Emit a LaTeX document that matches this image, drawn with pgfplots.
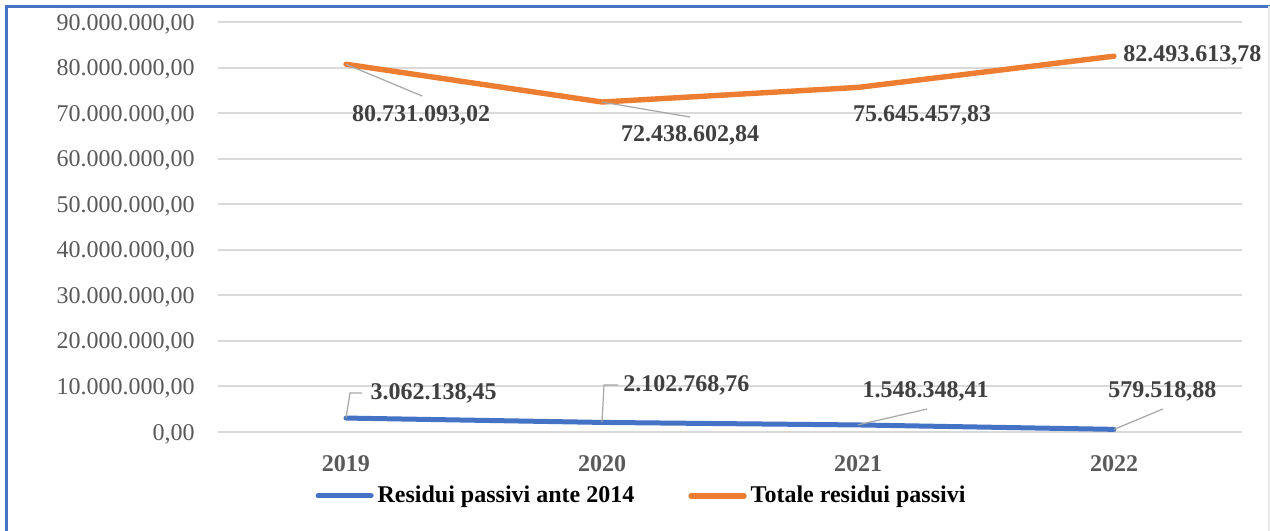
\documentclass[border=0pt]{standalone}
\usepackage{pgfplots}
\pgfplotsset{compat=1.18}
\usepackage{fontspec}
\setmainfont{Liberation Serif}
\definecolor{cblue}{HTML}{4472C4}
\definecolor{corange}{HTML}{ED7D31}
\definecolor{cgrid}{HTML}{D9D9D9}
\definecolor{ctick}{HTML}{595959}
\definecolor{clab}{HTML}{404040}
\definecolor{clead}{HTML}{A6A6A6}
\begin{document}
\begin{tikzpicture}
\useasboundingbox (-109bp,-49.5bp) rectangle (526bp,216bp);
\fill[white] (-109bp,-49.5bp) rectangle (526bp,216bp);
\begin{axis}[
  scale only axis,
  width=512bp, height=205bp,
  xmin=-0.5, xmax=3.5,
  ymin=0, ymax=90000000,
  scaled y ticks=false,
  axis line style={draw=none},
  tick style={draw=none},
  clip=false,
  xtick={0,1,2,3},
  xticklabels={2019,2020,2021,2022},
  ytick={0,10000000,20000000,30000000,40000000,50000000,60000000,70000000,80000000,90000000},
  yticklabels={{0,00},{10.000.000,00},{20.000.000,00},{30.000.000,00},{40.000.000,00},{50.000.000,00},{60.000.000,00},{70.000.000,00},{80.000.000,00},{90.000.000,00}},
  ymajorgrids,
  grid style={cgrid, line width=1bp},
  major tick length=0pt,
  tick label style={font=\fontsize{12bp}{14bp}\selectfont},
  yticklabel style={anchor=base east, inner sep=0pt, xshift=-11.5bp, yshift=-4bp, text=ctick},
  xticklabel style={anchor=base, inner sep=0pt, yshift=-19.5bp, text=ctick, font=\fontsize{12bp}{14bp}\selectfont\bfseries},
  legend style={at={(0.4146,-0.156)}, anchor=center, draw=none, fill=none,
    font=\fontsize{12bp}{14bp}\selectfont\bfseries, legend columns=2,
    /tikz/every even column/.append style={column sep=25bp},
    inner sep=0pt, row sep=0pt},
  legend cell align=left,
  legend image code/.code={\draw[#1, line cap=round] (0bp,0bp) -- (26.5bp,0bp);},
]
\addplot[cblue, line width=2.5bp, line cap=round, line join=round] coordinates {
  (0,3062138.45) (1,2102768.76) (2,1548348.41) (3,579518.88)};
\addlegendentry{Residui passivi ante 2014}
\addplot[corange, line width=2.7bp, line cap=round, line join=round] coordinates {
  (0,80731093.02) (1,72438602.84) (2,75645457.83) (3,82493613.78)};
\addlegendentry{Totale residui passivi}

% leader lines
\draw[clead, line width=0.6bp] (axis cs:0,80731093.02) -- (axis cs:0.297,73760000);
\draw[clead, line width=0.6bp] (axis cs:1,72438602.84) -- (axis cs:1.344,69140000);
\draw[clead, line width=0.6bp] (axis cs:0,3062138.45) -- (axis cs:0.0156,8560000) -- (axis cs:0.0625,8560000);
\draw[clead, line width=0.6bp] (axis cs:1,2102768.76) -- (axis cs:1.0078,10320000) -- (axis cs:1.0625,10320000);
\draw[clead, line width=0.6bp] (axis cs:2,1548348.41) -- (axis cs:2.27,5050000);
\draw[clead, line width=0.6bp] (axis cs:3,579518.88) -- (axis cs:3.191,5050000);

% data labels
\begin{scope}[every node/.style={text=clab, font=\fontsize{12bp}{14bp}\selectfont\bfseries, inner sep=0pt}]
\node[anchor=center] at (axis cs:0.293,69580000) {80.731.093,02};
\node[anchor=center] at (axis cs:1.344,65200000) {72.438.602,84};
\node[anchor=center] at (axis cs:2.25,69580000) {75.645.457,83};
\node[anchor=west] at (axis cs:3.035,82760000) {82.493.613,78};
\node[anchor=center] at (axis cs:0.342,8560000) {3.062.138,45};
\node[anchor=center] at (axis cs:1.330,10320000) {2.102.768,76};
\node[anchor=center] at (axis cs:2.264,9000000) {1.548.348,41};
\node[anchor=center] at (axis cs:3.189,9000000) {579.518,88};
\end{scope}
\end{axis}
% frame
\draw[cblue, line width=1.2bp] (-105.75bp,-49.5bp) -- (-105.75bp,212.75bp) -- (526bp,212.75bp);
\draw[cgrid!60, line width=0.8bp] (525.5bp,212.75bp) -- (525.5bp,-49.5bp);
\end{tikzpicture}
\end{document}
